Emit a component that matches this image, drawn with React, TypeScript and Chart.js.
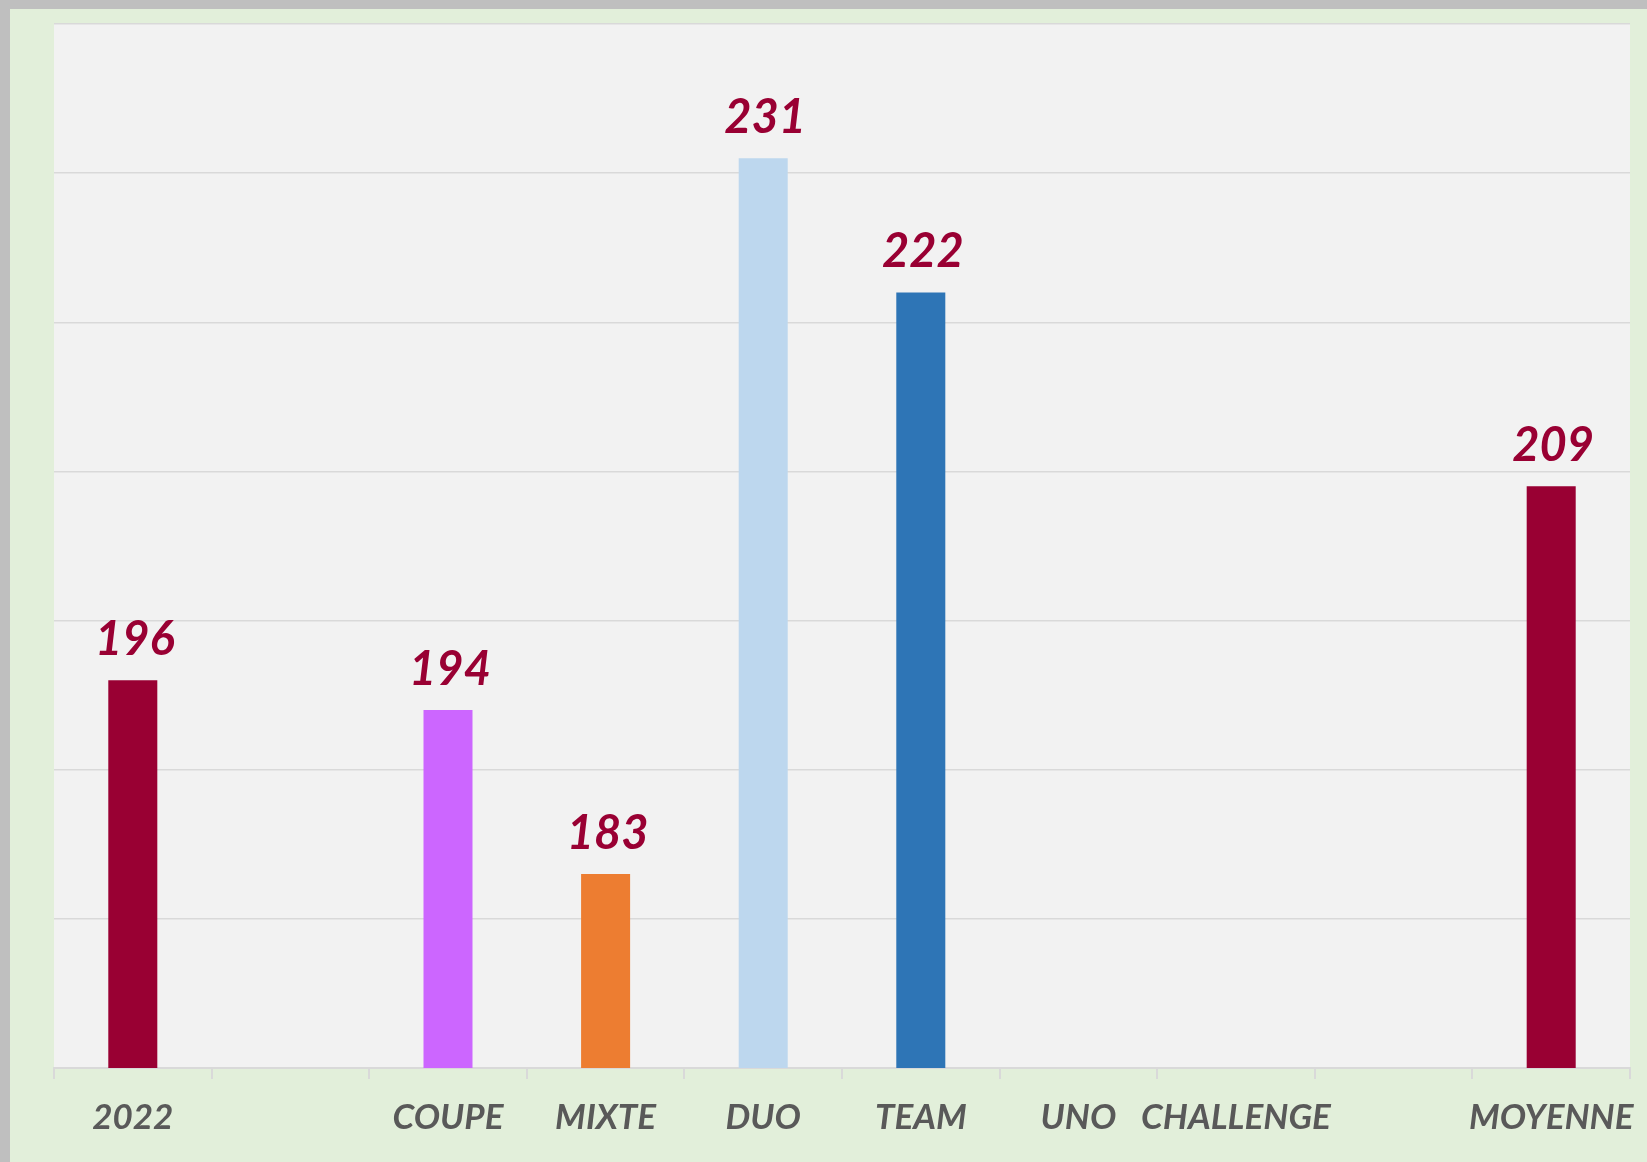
import React, { useEffect, useRef } from "react";
import { Chart, registerables } from "chart.js";

Chart.register(...registerables);

const categories: string[] = ["2022", "", "COUPE", "MIXTE", "DUO", "TEAM", "UNO", "CHALLENGE", "", "MOYENNE"];
const values: (number | null)[] = [196, null, 194, 183, 231, 222, null, null, null, 209];
const barColors: string[] = ["#990033", "#990033", "#CC66FF", "#ED7D31", "#BDD7EE", "#2E75B6", "#2E75B6", "#2E75B6", "#990033", "#990033"];
const yMin = 170;
const yMax = 240;
const yStep = 10;

const FONT = "Lato, 'Open Sans', sans-serif";

const bgPlugin = {
  id: "plotBg",
  beforeDraw(chart: any) {
    const { ctx, chartArea } = chart;
    ctx.save();
    ctx.fillStyle = "#F2F2F2";
    ctx.fillRect(chartArea.left, chartArea.top, chartArea.right - chartArea.left, chartArea.bottom - chartArea.top);
    ctx.restore();
  },
};

const labelPlugin = {
  id: "valueLabels",
  afterDatasetsDraw(chart: any) {
    const { ctx } = chart;
    const meta = chart.getDatasetMeta(0);
    ctx.save();
    ctx.fillStyle = "#990033";
    ctx.font = `italic bold 47px ${FONT}`;
    ctx.textAlign = "center";
    ctx.textBaseline = "alphabetic";
    meta.data.forEach((bar: any, i: number) => {
      const v = values[i];
      if (v === null || v === undefined) return;
      ctx.fillText(String(v), bar.x + 2, bar.y - 25);
    });
    ctx.restore();
  },
};

function BarChart() {
  const ref = useRef<HTMLCanvasElement | null>(null);
  useEffect(() => {
    if (!ref.current) return;
    const chart = new Chart(ref.current, {
      type: "bar",
      data: {
        labels: categories,
        datasets: [
          {
            data: values as any,
            backgroundColor: barColors,
            borderWidth: 0,
            categoryPercentage: 1,
            barPercentage: 0.311,
          },
        ],
      },
      options: {
        animation: false,
        responsive: false,
        maintainAspectRatio: false,
        layout: { padding: { left: 44, right: 17, top: 15, bottom: 0 } },
        plugins: { legend: { display: false }, tooltip: { enabled: false } },
        scales: {
          x: {
            grid: {
              display: true,
              drawOnChartArea: false,
              drawTicks: true,
              tickLength: 11,
              color: "#D9D9D9",
              lineWidth: 2,
            },
            border: { display: true, color: "#D9D9D9", width: 2 },
            ticks: {
              color: "#595959",
              font: { family: FONT, size: 35, style: "italic", weight: "bold" },
              padding: 18,
              maxRotation: 0,
              autoSkip: false,
            },
            afterFit: (axis: any) => {
              axis.height = 94;
              axis.paddingLeft = 0;
              axis.paddingRight = 0;
            },
          },
          y: {
            min: yMin,
            max: yMax,
            ticks: { display: false, stepSize: yStep },
            grid: { color: "#D9D9D9", lineWidth: 1.5, drawTicks: false },
            border: { display: false },
            afterFit: (axis: any) => {
              axis.width = 0;
              axis.paddingTop = 0;
              axis.paddingBottom = 0;
            },
          },
        },
      },
      plugins: [bgPlugin, labelPlugin],
    });
    return () => chart.destroy();
  }, []);
  return <canvas ref={ref} width={1637} height={1153} style={{ display: "block" }} />;
}

export default function App() {
  return (
    <div style={{ position: "fixed", left: 0, top: 0, width: 1647, height: 1162, background: "#BFBFBF", overflow: "hidden" }}>
      <div style={{ position: "absolute", left: 10, top: 9, width: 1637, height: 1153, background: "#E2EFDA" }}>
        <BarChart />
      </div>
    </div>
  );
}
